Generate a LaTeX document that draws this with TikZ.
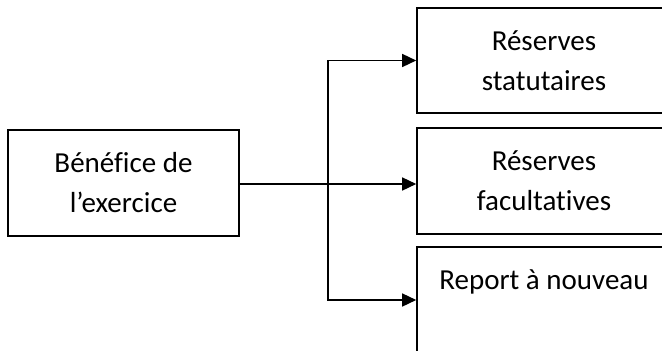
\documentclass[tikz,border=0pt]{standalone}
\usepackage{fontspec}
\setmainfont[Ligatures={NoCommon}]{Carlito}
\usetikzlibrary{arrows.meta}

\begin{document}
\begin{tikzpicture}[
    x=1pt, y=-1pt,
    block/.style={rectangle, draw, line width=1.6pt, inner sep=0pt, align=center,
        font=\fontsize{29}{40}\selectfont},
    arrow/.style={-{Triangle[length=14pt, width=13pt]}, line width=1.5pt}
]
% Frame
\clip (0,0) rectangle (662,351);

% Source
\node[block, minimum width=231pt, minimum height=106pt] (benef) at (123.5,183) {Bénéfice de\\l’exercice};

% Targets
\node[block, minimum width=254pt, minimum height=105pt] (statut) at (544,60.5) {Réserves\\statutaires};
\node[block, minimum width=254pt, minimum height=106pt] (facult) at (544,181) {Réserves\\facultatives};
\node[block, minimum width=254pt, minimum height=106pt] (report) at (544,300) {Report à nouveau\\[0pt]\mbox{}};

% Split point
\coordinate (split) at (328,184);

% Arrows
\draw[line width=2.4pt] (benef.east |- split) -- (split);
\draw[arrow] (split) |- (statut.west);
\draw[arrow] (split) -- (facult.west |- split);
\draw[arrow] (split) |- (report.west);

\end{tikzpicture}
\end{document}
